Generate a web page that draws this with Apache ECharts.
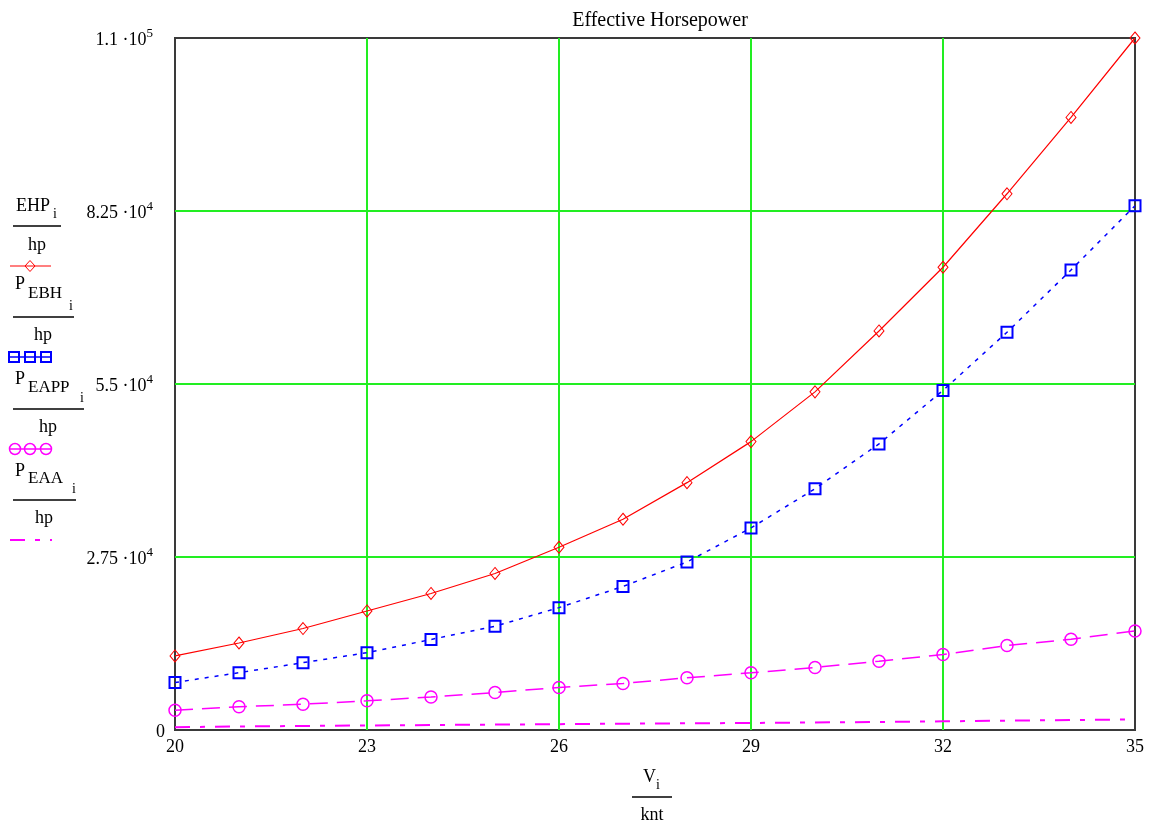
<!DOCTYPE html>
<html>
<head>
<meta charset="utf-8">
<title>Effective Horsepower</title>
<script src="https://cdn.jsdelivr.net/npm/echarts@6/dist/echarts.min.js"></script>
<style>
  html, body { margin: 0; padding: 0; background: #ffffff; }
  #chart { width: 1150px; height: 824px; }
</style>
</head>
<body>
<div id="chart"></div>
<script>
// Ship speed (knots) and effective horsepower estimates
const speed = [20, 21, 22, 23, 24, 25, 26, 27, 28, 29, 30, 31, 32, 33, 34, 35];
const ehp   = [11770, 13830, 16130, 18920, 21700, 24880, 29050, 33500, 39320, 45840, 53750, 63430, 73560, 85240, 97370, 110000];
const pEBH  = [7550, 9110, 10700, 12290, 14390, 16500, 19450, 22820, 26710, 32120, 38350, 45480, 53980, 63230, 73120, 83340];
const pEAPP = [3150, 3690, 4100, 4640, 5250, 5960, 6760, 7390, 8300, 9090, 9940, 10940, 12000, 13430, 14430, 15740];
const pEAA  = [450, 560, 640, 720, 790, 860, 930, 1000, 1060, 1120, 1200, 1280, 1380, 1480, 1580, 1680];

// Axis ticks and their labels (mantissa, exponent)
const xTicks = [20, 23, 26, 29, 32, 35];
const yTicks = [0, 27500, 55000, 82500, 110000];
const yTickText = [['0', ''], ['2.75', '4'], ['5.5', '4'], ['8.25', '4'], ['1.1', '5']];

const SERIF = '"Liberation Serif", "DejaVu Serif", serif';
const RED = '#ff0000', BLUE = '#0000ff', MAG = '#ff00ff';
const GRIDGREEN = '#22ee22';

const pairs = (ys) => speed.map((v, i) => [v, ys[i]]);

const chart = echarts.init(document.getElementById('chart'), null, { renderer: 'canvas' });

// Stacked fraction-style series labels on the left
function txt(text, x, y, size, align) {
  return { type: 'text', x: x, y: y, silent: true,
    style: { text: text, fontSize: size, fontFamily: SERIF, fill: '#000',
             align: align || 'left', verticalAlign: 'middle' } };
}
function rule(x1, x2, y) {
  return { type: 'line', silent: true, shape: { x1: x1, y1: y, x2: x2, y2: y },
           style: { stroke: '#000', lineWidth: 1.5 } };
}
function seg(x1, x2, y, color, dash, w) {
  return { type: 'line', silent: true, shape: { x1: x1, y1: y, x2: x2, y2: y },
           style: { stroke: color, lineWidth: w || 1, lineDash: dash || null } };
}
function box(cx, cy) {
  return { type: 'rect', silent: true, shape: { x: cx - 5, y: cy - 5, width: 10, height: 10 },
           style: { fill: 'none', stroke: BLUE, lineWidth: 2 } };
}
function ring(cx, cy) {
  return { type: 'circle', silent: true, shape: { cx: cx, cy: cy, r: 5.5 },
           style: { fill: 'none', stroke: MAG, lineWidth: 1.5 } };
}

const legendGraphics = [
  // EHP_i / hp
  txt('EHP', 16, 206, 18), txt('i', 53, 214, 14), rule(13, 61, 226), txt('hp', 37, 245, 18, 'center'),
  seg(10, 51, 266, RED, null, 1.2),
  { type: 'polygon', silent: true, shape: { points: [[30, 260.5], [35, 266], [30, 271.5], [25, 266]] },
    style: { fill: 'none', stroke: RED, lineWidth: 1 } },
  // P_EBH_i / hp
  txt('P', 15, 284, 18), txt('EBH', 28, 294, 17), txt('i', 69, 306, 14), rule(13, 74, 317), txt('hp', 43, 335, 18, 'center'),
  seg(10, 51, 357, BLUE, null, 1.5), box(14, 357), box(30, 357), box(46, 357),
  // P_EAPP_i / hp
  txt('P', 15, 379, 18), txt('EAPP', 28, 388, 17), txt('i', 80, 398, 14), rule(13, 84, 409), txt('hp', 48, 427, 18, 'center'),
  seg(10, 51, 449, MAG, null, 1.5), ring(15, 449), ring(30, 449), ring(46, 449),
  // P_EAA_i / hp
  txt('P', 15, 471, 18), txt('EAA', 28, 479, 17), txt('i', 72, 489, 14), rule(13, 76, 500), txt('hp', 44, 518, 18, 'center'),
  seg(10, 52, 540, MAG, [15, 10, 5, 10], 2),
  // x-axis quantity: V_i / knt
  txt('V', 643, 777, 18), txt('i', 656, 785, 14), rule(632, 672, 797), txt('knt', 652, 815, 18, 'center')
];

const markerStyle = (color, w) => ({ color: 'rgba(0,0,0,0)', borderColor: color, borderWidth: w });

chart.setOption({
  animation: false,
  backgroundColor: '#ffffff',
  title: {
    text: 'Effective Horsepower',
    left: 655, top: 6, textAlign: 'center',
    textStyle: { fontFamily: SERIF, fontSize: 20, fontWeight: 'normal', color: '#000' }
  },
  grid: {
    left: 175, right: 15, top: 38, bottom: 94,
    show: true, borderColor: '#3a3a3a', borderWidth: 2, backgroundColor: 'transparent'
  },
  xAxis: {
    type: 'value', min: 20, max: 35,
    axisLine: { show: false },
    axisTick: { show: false, customValues: xTicks },
    axisLabel: {
      customValues: xTicks, margin: 8,
      fontFamily: SERIF, fontSize: 18, color: '#000'
    },
    splitLine: { show: true, showMinLine: false, showMaxLine: false,
                 lineStyle: { color: GRIDGREEN, width: 2 } }
  },
  yAxis: {
    type: 'value', min: 0, max: 110000, interval: 27500,
    axisLine: { show: false },
    axisTick: { show: false },
    axisLabel: {
      margin: 10,
      formatter: function (v) {
        const k = yTicks.indexOf(v);
        if (k < 0) return '';
        const t = yTickText[k];
        return t[1] ? '{m|' + t[0] + ' ·10}{s|' + t[1] + '}' : '{m|' + t[0] + '}';
      },
      rich: {
        m: { fontFamily: SERIF, fontSize: 18, color: '#000', lineHeight: 22, verticalAlign: 'bottom' },
        s: { fontFamily: SERIF, fontSize: 13, color: '#000', lineHeight: 22, verticalAlign: 'top', padding: [0, 12, 6, 0] }
      }
    },
    splitLine: { show: true, showMinLine: false, showMaxLine: false,
                 lineStyle: { color: GRIDGREEN, width: 2 } }
  },
  graphic: legendGraphics,
  series: [
    {
      name: 'PEAA', type: 'line', data: pairs(pEAA), showSymbol: false, symbol: 'none',
      lineStyle: { color: MAG, width: 2, type: [15, 10, 5, 10] }, z: 3
    },
    {
      name: 'PEAPP', type: 'line', data: pairs(pEAPP), symbol: 'circle', symbolSize: 12,
      lineStyle: { color: MAG, width: 1.5, type: [18, 9] },
      itemStyle: markerStyle(MAG, 1.5), z: 4
    },
    {
      name: 'PEBH', type: 'line', data: pairs(pEBH), symbol: 'rect', symbolSize: 11,
      lineStyle: { color: BLUE, width: 1.5, type: [4, 6] },
      itemStyle: markerStyle(BLUE, 2), z: 5
    },
    {
      name: 'EHP', type: 'line', data: pairs(ehp), symbol: 'diamond', symbolSize: [10, 12],
      lineStyle: { color: RED, width: 1.2 },
      itemStyle: markerStyle(RED, 1), z: 6
    }
  ]
});
</script>
</body>
</html>
